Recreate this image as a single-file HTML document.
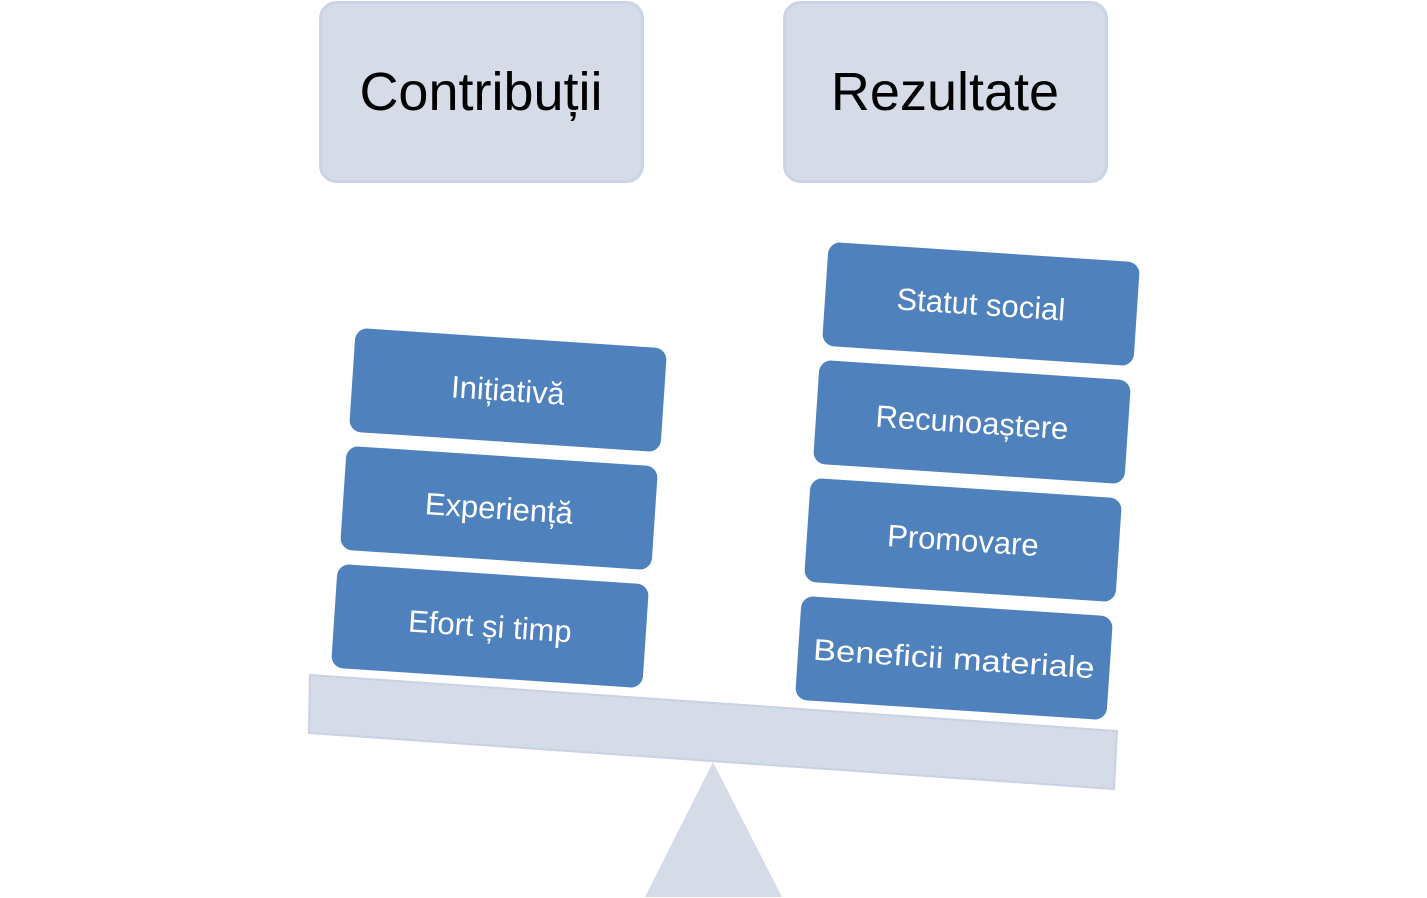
<!DOCTYPE html>
<html><head><meta charset="utf-8"><style>
html,body{margin:0;padding:0;background:#fff;}
svg{display:block;}
text{font-family:"Liberation Sans",sans-serif;}
</style></head><body>
<svg width="1427" height="898" viewBox="0 0 1427 898" xmlns="http://www.w3.org/2000/svg">
<rect x="320.5" y="2.5" width="322" height="179" rx="16" fill="#d5dce8" stroke="#cbd4e4" stroke-width="3"/>
<rect x="784.5" y="2.5" width="322" height="179" rx="16" fill="#d5dce8" stroke="#cbd4e4" stroke-width="3"/>
<text x="481" y="110" font-size="54" text-anchor="middle" fill="#000">Contribuții</text>
<text x="945" y="110" font-size="54" text-anchor="middle" fill="#000">Rezultate</text>
<polygon points="310,675 1117,731 1114,789 309,733" fill="#d5dce8" stroke="#c8d2e3" stroke-width="2"/>
<polygon points="713,762 645,897 782,897" fill="#d5dce8"/>
<g fill="#4f81bd">
<g transform="translate(508,390) rotate(3.8)"><rect x="-156" y="-52" width="312" height="104" rx="12"/><text x="0" y="11" font-size="31" fill="#fff" text-anchor="middle">Inițiativă</text></g>
<g transform="translate(499,508) rotate(3.8)"><rect x="-156" y="-52" width="312" height="104" rx="12"/><text x="0" y="11" font-size="31" fill="#fff" text-anchor="middle">Experiență</text></g>
<g transform="translate(490,626) rotate(3.8)"><rect x="-156" y="-52" width="312" height="104" rx="12"/><text x="0" y="11" font-size="31" fill="#fff" text-anchor="middle">Efort și timp</text></g>
<g transform="translate(981,304) rotate(3.8)"><rect x="-156" y="-52" width="312" height="104" rx="12"/><text x="0" y="11" font-size="31" fill="#fff" text-anchor="middle">Statut social</text></g>
<g transform="translate(972,422) rotate(3.8)"><rect x="-156" y="-52" width="312" height="104" rx="12"/><text x="0" y="11" font-size="31" fill="#fff" text-anchor="middle">Recunoaștere</text></g>
<g transform="translate(963,540) rotate(3.8)"><rect x="-156" y="-52" width="312" height="104" rx="12"/><text x="0" y="11" font-size="31" fill="#fff" text-anchor="middle">Promovare</text></g>
<g transform="translate(954,658) rotate(3.8)"><rect x="-156" y="-52" width="312" height="104" rx="12"/><text x="0" y="11" font-size="30" fill="#fff" text-anchor="middle" textLength="282" lengthAdjust="spacingAndGlyphs">Beneficii materiale</text></g>
</g>
</svg>
</body></html>
